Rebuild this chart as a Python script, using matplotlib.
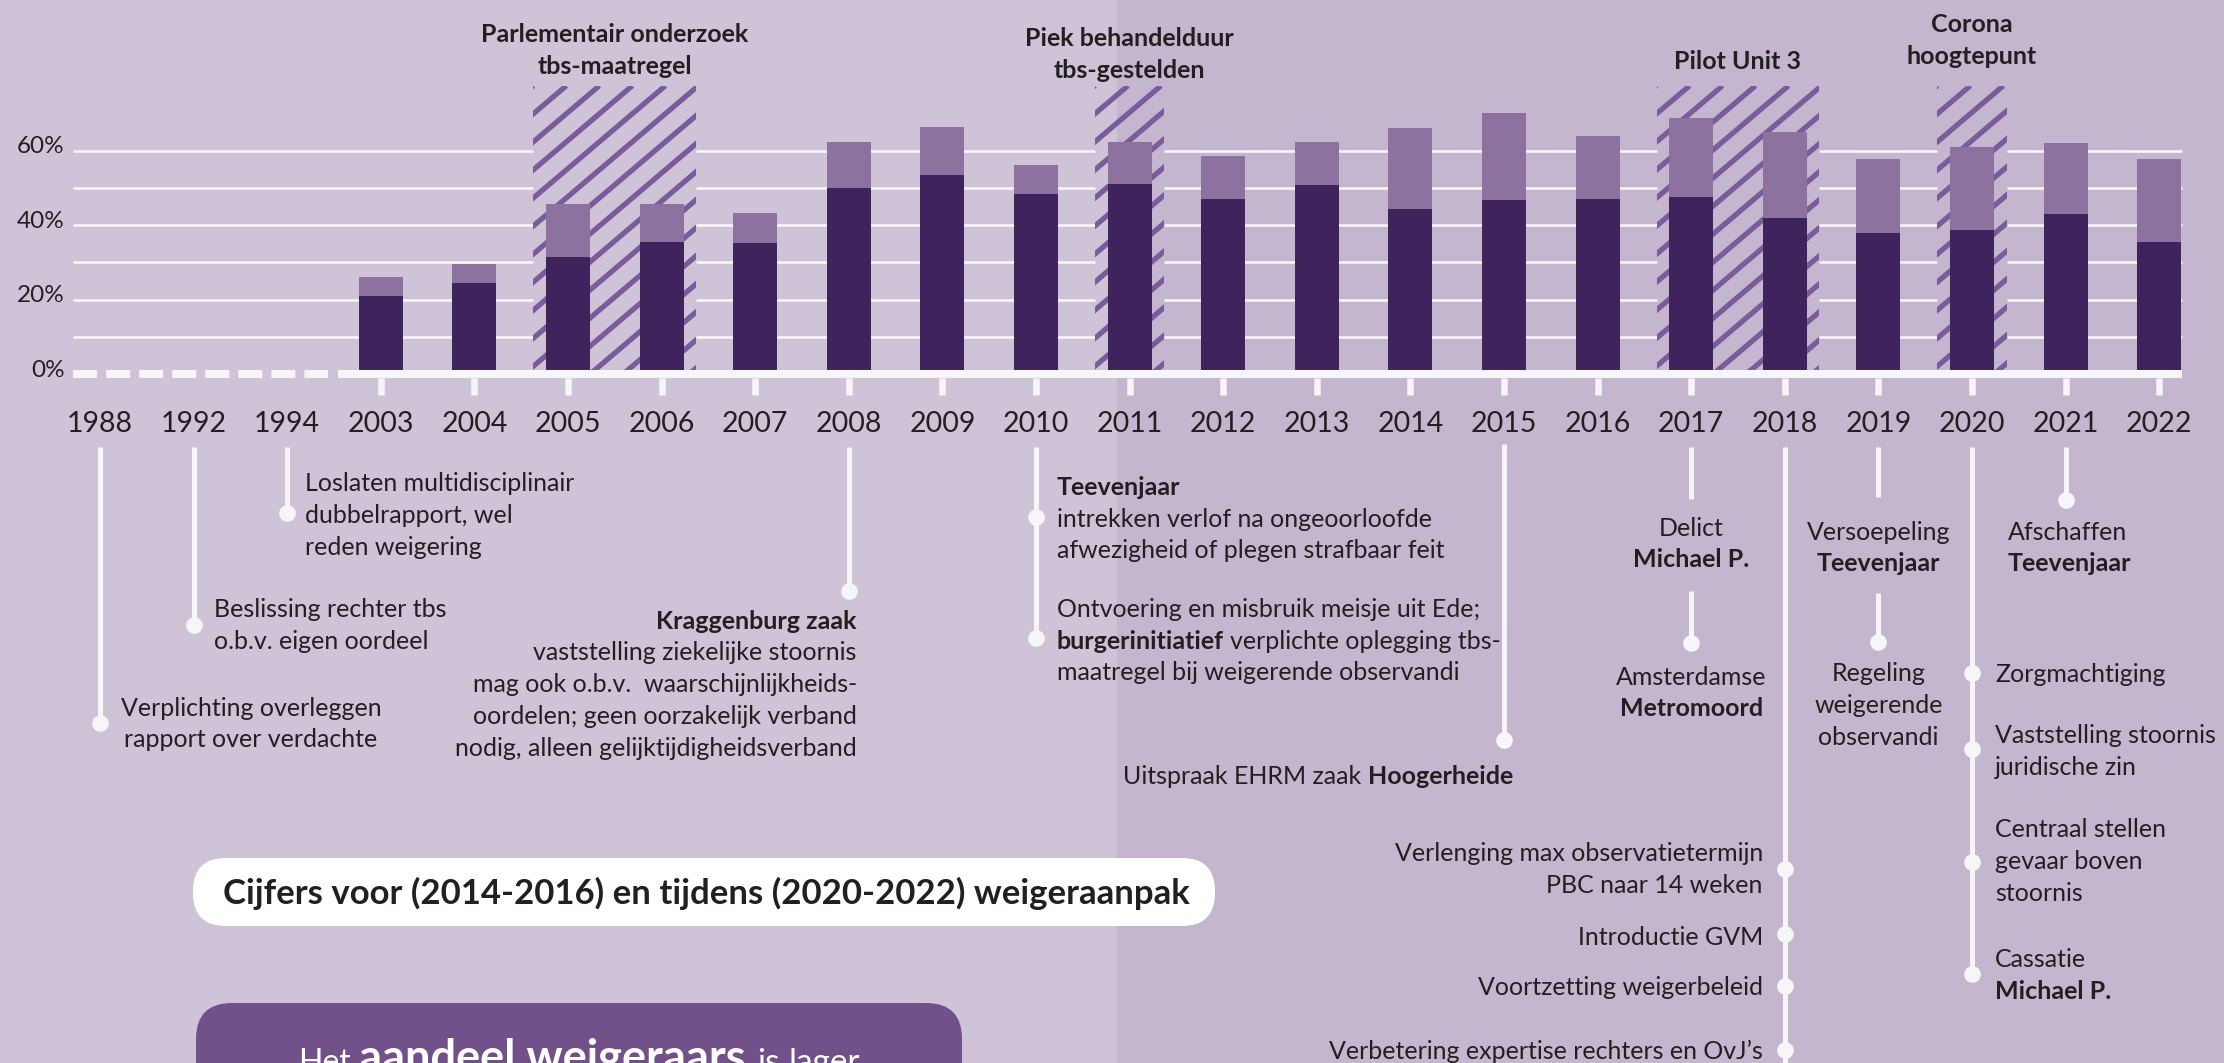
#!/usr/bin/env python
"""Tbs-weigeraars per year (stacked bars) with a timeline of events underneath."""

import matplotlib

matplotlib.use("Agg")
import matplotlib.pyplot as plt
from matplotlib.lines import Line2D
from matplotlib.patches import FancyBboxPatch, Rectangle
from matplotlib.transforms import IdentityTransform, ScaledTranslation

W, H = 2224, 1063

YEARS = ["1988", "1992", "1994", "2003", "2004", "2005", "2006", "2007", "2008", "2009",
         "2010", "2011", "2012", "2013", "2014", "2015", "2016", "2017", "2018", "2019",
         "2020", "2021", "2022"]
BAR_YEARS = ["2003", "2004", "2005", "2006", "2007", "2008", "2009", "2010", "2011", "2012",
             "2013", "2014", "2015", "2016", "2017", "2018", "2019", "2020", "2021", "2022"]
DARK = [21.0, 24.5, 31.5, 35.5, 35.2, 50.0, 53.5, 48.4, 51.1, 47.0,
        50.8, 44.4, 46.8, 47.0, 47.6, 41.9, 37.9, 38.7, 43.0, 35.5]
LIGHT = [5.1, 5.1, 14.2, 10.2, 8.1, 12.4, 12.9, 7.8, 11.3, 11.6,
         11.6, 21.7, 23.4, 17.0, 21.2, 23.2, 19.9, 22.3, 19.1, 22.3]
GRID_STEPS = [10, 20, 30, 40, 50, 60]
Y_TICKS = [0, 20, 40, 60]
HATCH_SPANS = [("2005", "2006"), ("2011", "2011"), ("2017", "2018"), ("2020", "2020")]
HATCH_LABELS = ["Parlementair onderzoek\ntbs-maatregel", "Piek behandelduur\ntbs-gestelden",
                "Pilot Unit 3", "Corona\nhoogtepunt"]
HATCH_TOP = 77.5
PILL_TEXT = "Cijfers voor (2014-2016) en tijdens (2020-2022) weigeraanpak"

COL = {
    "bg_l": "#cfc3d7",
    "bg_r": "#c4b6ce",
    "dark": "#3f235c",
    "light": "#8d72a0",
    "hatch": "#7a5b9b",
    "white": "#f6f5f7",
    "text": "#231f20",
    "box": "#72518a",
}

# pixel mapping of the bar axes
X0, DX = 100, 93.6
Y0, DY = 374, 3.72
XL = (-0.35, 22.3)
YL = (-8, 80)
PAD = 0.37


def rich(ax, x, base, parts, ha="left", size=18, color=None):
    """Draw one line made of regular/bold runs, baseline at pixel y `base`."""
    color = color or COL["text"]
    if isinstance(parts, str):
        parts = [(parts, False)]
    r = ax.figure.canvas.get_renderer()
    arts, ws, gaps = [], [], []
    for p in parts:
        s, b = p[0], p[1]
        sz = p[2] if len(p) > 2 else size
        t = ax.text(0, base, s, fontsize=sz, fontweight="bold" if b else "normal",
                    color=color, ha="left", va="baseline", zorder=5)
        arts.append(t)
        ws.append(t.get_window_extent(r).width)
        t1 = ax.text(0, 0, "n n", fontsize=sz)
        t2 = ax.text(0, 0, "nn", fontsize=sz)
        gaps.append(t1.get_window_extent(r).width - t2.get_window_extent(r).width)
        t1.remove()
        t2.remove()
    total = sum(ws) + sum(gaps[:-1])
    x0 = {"left": x, "right": x - total, "center": x - total / 2}[ha]
    for t, w, g in zip(arts, ws, gaps):
        t.set_x(x0)
        x0 += w + g


def lines(ax, x, ys, rows, ha="left", size=18):
    for yc, row in zip(ys, rows):
        rich(ax, x, yc + 0.5 * size, row, ha=ha, size=size)


def stem(ax, x, y0, y1, dots=()):
    ax.plot([x, x], [y0, y1], color=COL["white"], lw=3.6, solid_capstyle="butt", zorder=2)
    if dots:
        ax.plot([x] * len(dots), list(dots), "o", ms=12, color=COL["white"], mec="none", zorder=3)


def main():
    plt.rcParams.update({"font.family": ["Lato", "DejaVu Sans"], "lines.scale_dashes": False})
    fig = plt.figure(figsize=(W / 100, H / 100), dpi=100)

    ov = fig.add_axes([0, 0, 1, 1], zorder=0)
    ov.set_xlim(0, W)
    ov.set_ylim(H, 0)
    ov.axis("off")
    ov.add_patch(Rectangle((0, 0), 1117, H, facecolor=COL["bg_l"], edgecolor="none", zorder=0))
    ov.add_patch(Rectangle((1117, 0), W - 1117, H, facecolor=COL["bg_r"], edgecolor="none", zorder=0))

    left = (X0 + DX * XL[0]) / W
    width = DX * (XL[1] - XL[0]) / W
    bottom = 1 - (Y0 - DY * YL[0]) / H
    height = DY * (YL[1] - YL[0]) / H
    ax = fig.add_axes([left, bottom, width, height], zorder=1)
    ax.set_xlim(*XL)
    ax.set_ylim(*YL)
    ax.set_facecolor("none")
    for s in ax.spines.values():
        s.set_visible(False)

    idx = {y: k for k, y in enumerate(YEARS)}

    def px(i):
        return ax.transData.transform((i, 0))[0]

    # gridlines, interrupted by the hatched periods
    spans = [(idx[a] - PAD, idx[b] + PAD) for a, b in HATCH_SPANS]
    segs, start = [], -0.29
    for a, b in spans:
        segs.append((start, a))
        start = b
    segs.append((start, 22.24))
    for v in GRID_STEPS:
        for a, b in segs:
            ax.hlines(v, a, b, color=COL["white"], lw=1.9, zorder=1)

    # hatched periods
    for (a, b), lab in zip(spans, HATCH_LABELS):
        clip = Rectangle((a, 0.5), b - a, HATCH_TOP - 0.5, facecolor="none", edgecolor="none",
                         transform=ax.transData)
        ax.add_patch(clip)
        dx0, dy0 = ax.transData.transform((a, 0.5))
        dx1, dy1 = ax.transData.transform((b, HATCH_TOP))
        hh = dy1 - dy0
        run = hh / 0.85
        c = dx0 - run
        while c < dx1 + 5:
            ln = Line2D([c, c + run], [dy0, dy1], transform=IdentityTransform(), color=COL["hatch"],
                        lw=3.8, solid_capstyle="butt", zorder=2)
            ax.add_line(ln)
            ln.set_clip_path(clip)
            c += 33
        xc = px((a + b) / 2)
        rows = lab.split("\n")
        y_first = {2: 33, 1: 60}[len(rows)]
        if lab.startswith("Piek"):
            y_first = 37
        if lab.startswith("Corona"):
            y_first = 23
        lines(ov, xc, [y_first + 32 * k for k in range(len(rows))], [[(r_, True)] for r_ in rows],
              ha="center", size=18)

    # stacked bars
    xb = [idx[y] for y in BAR_YEARS]
    ax.bar(xb, DARK, width=0.47, color=COL["dark"], zorder=3)
    ax.bar(xb, LIGHT, bottom=DARK, width=0.47, color=COL["light"], zorder=3)

    # baseline: dashed before 2003, solid after
    ax.add_line(Line2D([-0.29, 2.44], [0, 0], color=COL["white"], lw=5.8,
                       linestyle=(0, (17.3, 6.5)), dash_capstyle="butt", zorder=4))
    ax.add_line(Line2D([2.54, 22.24], [0, 0], color=COL["white"], lw=5.8,
                       solid_capstyle="butt", zorder=4))
    ax.vlines(xb, -5.6, -1.0, color=COL["white"], lw=4.7, zorder=4)

    ax.set_xticks(range(len(YEARS)), YEARS)
    ax.set_yticks(Y_TICKS, [f"{v}%" for v in Y_TICKS])
    ax.tick_params(axis="x", length=0, pad=5, labelsize=20.5, labelcolor=COL["text"])
    ax.tick_params(axis="y", length=0, pad=2, labelsize=17.5, labelcolor=COL["text"])
    for t in ax.get_yticklabels():
        t.set_transform(t.get_transform() + ScaledTranslation(0, 0.06, fig.dpi_scale_trans))

    # timeline
    e = px(idx["1988"])
    stem(ov, e, 447, 723, [723])
    lines(ov, e + 151, [707, 738], ["Verplichting overleggen", "rapport over verdachte"], ha="center")

    e = px(idx["1992"])
    stem(ov, e, 447, 625, [625])
    lines(ov, e + 20, [608, 640], ["Beslissing rechter tbs", "o.b.v. eigen oordeel"])

    e = px(idx["1994"])
    stem(ov, e, 447, 513, [513])
    lines(ov, e + 18, [482, 514, 546], ["Loslaten multidisciplinair", "dubbelrapport, wel", "reden weigering"])

    e = px(idx["2008"])
    stem(ov, e, 447, 591, [591])
    lines(ov, e + 8, [620, 651, 683, 715, 747],
          [[("Kraggenburg zaak", True)], "vaststelling ziekelijke stoornis",
           "mag ook o.b.v.  waarschijnlijkheids-", "oordelen; geen oorzakelijk verband",
           "nodig, alleen gelijktijdigheidsverband"], ha="right")

    e = px(idx["2010"])
    stem(ov, e, 447, 638, [517, 638])
    lines(ov, e + 21, [486, 518, 549, 608, 640, 671],
          [[("Teevenjaar", True)], "intrekken verlof na ongeoorloofde",
           "afwezigheid of plegen strafbaar feit", "Ontvoering en misbruik meisje uit Ede;",
           [("burgerinitiatief", True), ("verplichte oplegging tbs-", False)],
           "maatregel bij weigerende observandi"])

    e = px(idx["2015"])
    stem(ov, e, 444, 740, [740])
    lines(ov, e + 9, [775], [[("Uitspraak EHRM zaak", False), ("Hoogerheide", True)]], ha="right")

    e = px(idx["2017"])
    stem(ov, e, 447, 499)
    stem(ov, e, 591, 643, [643])
    lines(ov, e, [527, 558, 676, 707],
          ["Delict", [("Michael P.", True)], "Amsterdamse", [("Metromoord", True)]], ha="center")

    e = px(idx["2018"])
    stem(ov, e, 447, H, [869, 934, 986, 1050])
    lines(ov, e - 22, [852, 884, 936, 986, 1050],
          ["Verlenging max observatietermijn", "PBC naar 14 weken", "Introductie GVM",
           "Voortzetting weigerbeleid", "Verbetering expertise rechters en OvJ\u2019s"], ha="right")

    e = px(idx["2019"])
    stem(ov, e, 447, 497)
    stem(ov, e, 593, 642, [642])
    lines(ov, e, [531, 562, 672, 704, 736],
          ["Versoepeling", [("Teevenjaar", True)], "Regeling", "weigerende", "observandi"], ha="center")

    e = px(idx["2020"])
    stem(ov, e, 447, 974, [673, 749, 862, 974])
    lines(ov, e + 23, [673, 734, 766, 828, 860, 892, 958, 990],
          ["Zorgmachtiging", "Vaststelling stoornis", "juridische zin", "Centraal stellen",
           "gevaar boven", "stoornis", "Cassatie", [("Michael P.", True)]])

    e = px(idx["2021"])
    stem(ov, e, 447, 500, [500])
    lines(ov, e - 58, [531, 562], ["Afschaffen", [("Teevenjaar", True)]])

    # bottom blocks
    ov.add_patch(FancyBboxPatch((193, 858), 1022, 68, boxstyle="round,pad=0,rounding_size=33",
                                facecolor="white", edgecolor="none", zorder=3))
    rich(ov, 706, 892 + 0.5 * 25, [(PILL_TEXT, True)], ha="center", size=25)
    ov.add_patch(FancyBboxPatch((196, 1003), 766, 140, boxstyle="round,pad=0,rounding_size=36",
                                facecolor=COL["box"], edgecolor="none", zorder=3))
    rich(ov, 579, 1072, [("Het", False, 23), ("aandeel weigeraars", True, 32.5), ("is", False, 24),
                         ("lager", False, 24)], ha="center", color="white")

    fig.savefig("out.png", dpi=100)


if __name__ == "__main__":
    main()
